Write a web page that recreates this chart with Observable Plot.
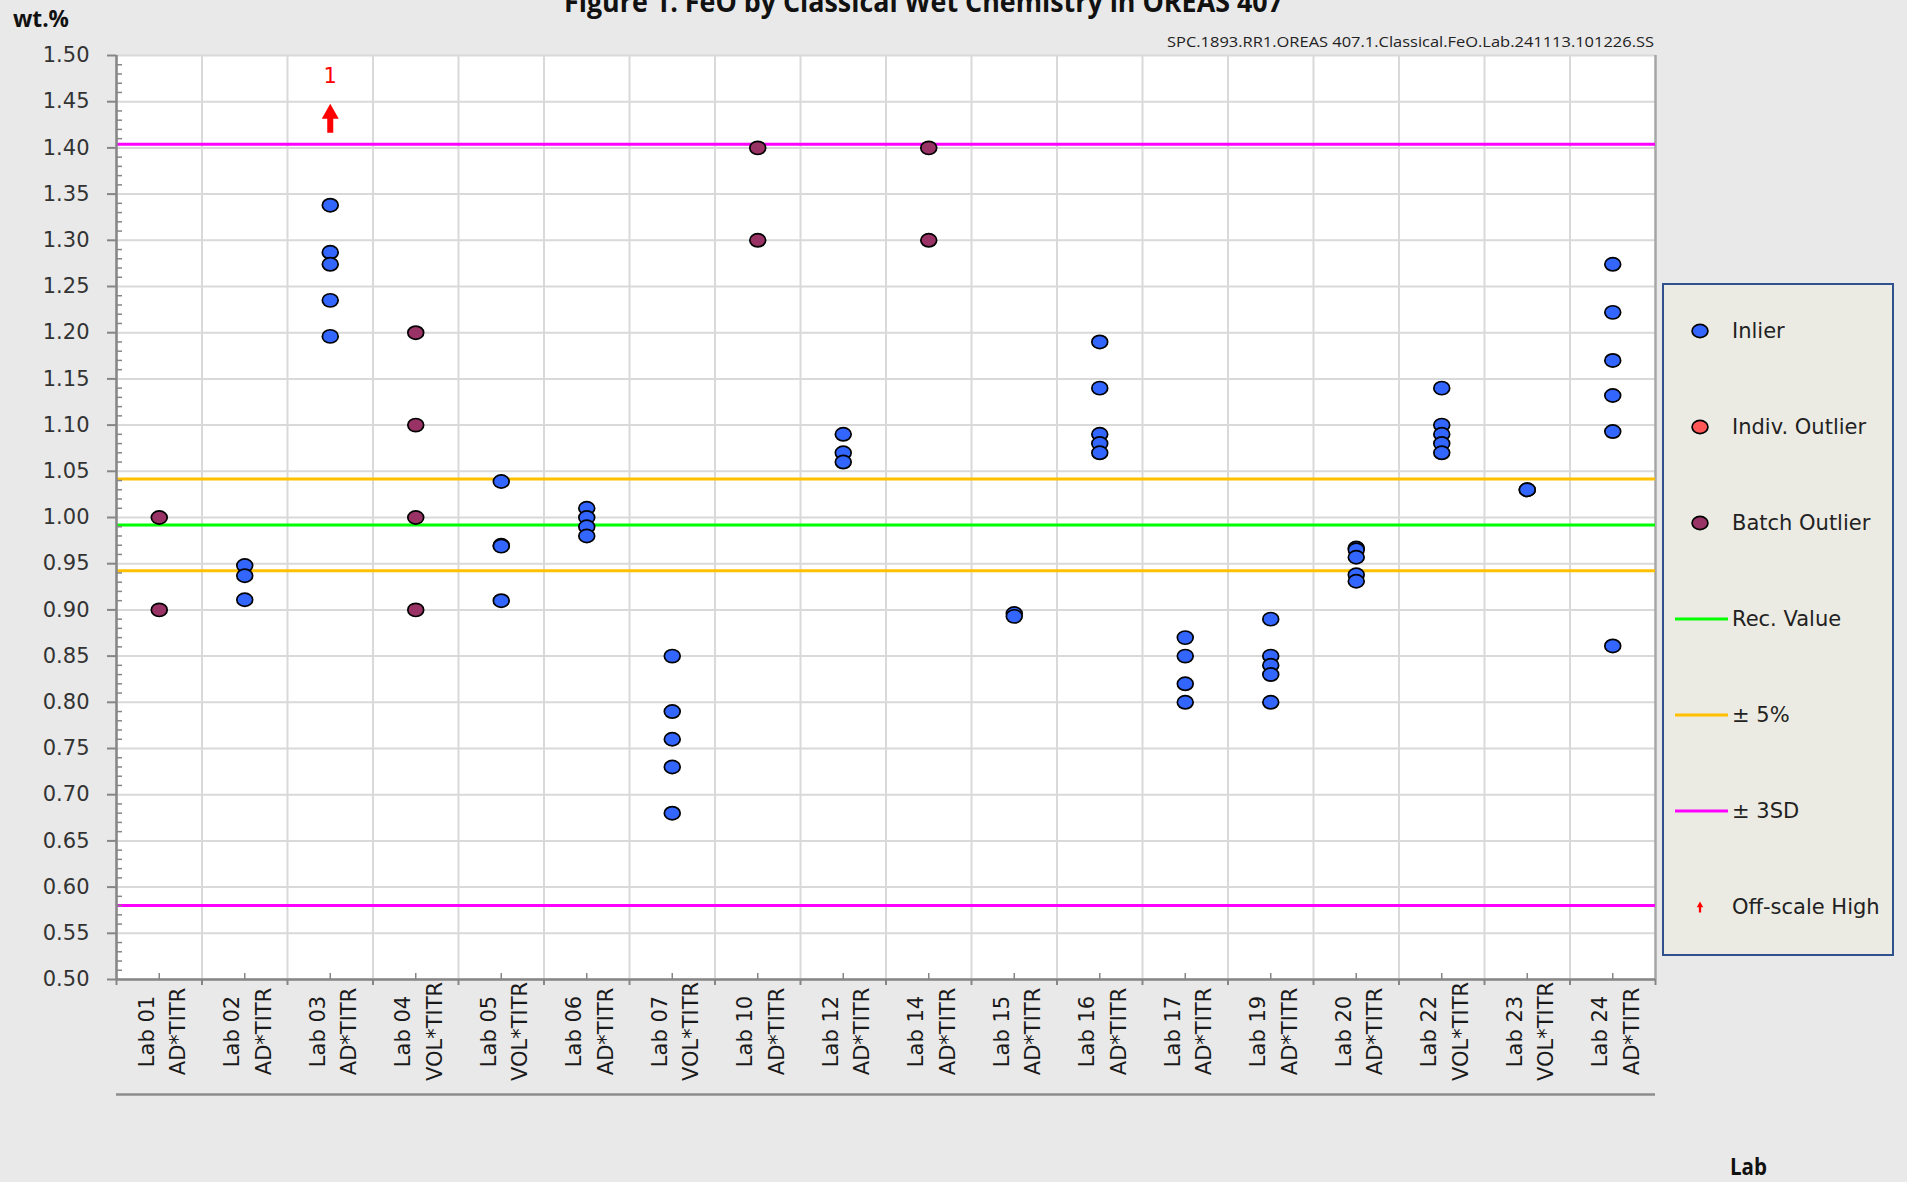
<!DOCTYPE html>
<html><head><meta charset="utf-8">
<script src="https://cdn.jsdelivr.net/npm/d3@7"></script>
<script src="https://cdn.jsdelivr.net/npm/@observablehq/plot@0.6"></script>
<style>
html,body{margin:0;padding:0;background:#e9e9e9;}
#chart{position:relative;width:1907px;height:1182px;overflow:hidden;}
</style></head><body><div id="chart"></div>
<script>
// ---------- data ----------
const labs = ["Lab 01","Lab 02","Lab 03","Lab 04","Lab 05","Lab 06","Lab 07","Lab 10","Lab 12","Lab 14","Lab 15","Lab 16","Lab 17","Lab 19","Lab 20","Lab 22","Lab 23","Lab 24"];
const methods = ["AD*TITR","AD*TITR","AD*TITR","VOL*TITR","VOL*TITR","AD*TITR","VOL*TITR","AD*TITR","AD*TITR","AD*TITR","AD*TITR","AD*TITR","AD*TITR","AD*TITR","AD*TITR","VOL*TITR","VOL*TITR","AD*TITR"];

const inlierLab = [
  "Lab 02","Lab 02","Lab 02",
  "Lab 03","Lab 03","Lab 03","Lab 03","Lab 03",
  "Lab 05","Lab 05","Lab 05","Lab 05",
  "Lab 06","Lab 06","Lab 06","Lab 06",
  "Lab 07","Lab 07","Lab 07","Lab 07","Lab 07",
  "Lab 12","Lab 12","Lab 12",
  "Lab 15","Lab 15",
  "Lab 16","Lab 16","Lab 16","Lab 16","Lab 16",
  "Lab 17","Lab 17","Lab 17","Lab 17",
  "Lab 19","Lab 19","Lab 19","Lab 19","Lab 19",
  "Lab 20","Lab 20","Lab 20","Lab 20","Lab 20",
  "Lab 22","Lab 22","Lab 22","Lab 22","Lab 22",
  "Lab 23","Lab 23",
  "Lab 24","Lab 24","Lab 24","Lab 24","Lab 24","Lab 24"
];
const inlierValue = [
  0.948,0.937,0.911,
  1.338,1.287,1.274,1.235,1.196,
  1.039,0.970,0.969,0.910,
  1.010,1.000,0.990,0.980,
  0.850,0.790,0.760,0.730,0.680,
  1.090,1.070,1.060,
  0.896,0.893,
  1.190,1.140,1.090,1.080,1.070,
  0.870,0.850,0.820,0.800,
  0.890,0.850,0.840,0.830,0.800,
  0.967,0.965,0.957,0.938,0.931,
  1.140,1.100,1.090,1.080,1.070,
  1.030,1.030,
  1.274,1.222,1.170,1.132,1.093,0.861
];
const batchLab = ["Lab 01","Lab 01","Lab 04","Lab 04","Lab 04","Lab 04","Lab 10","Lab 10","Lab 14","Lab 14"];
const batchValue = [1.00,0.90,1.20,1.10,1.00,0.90,1.40,1.30,1.40,1.30];

const offScaleLab = ["Lab 03"];
const offScaleCount = ["1"];
const offScaleArrowY = [1.432];
const offScaleLabelY = [1.477];

const recValue = 0.992;
const pct5Lines = [0.9424, 1.0416];
const sd3Lines = [0.580, 1.404];

const yTicks = d3.range(10, 31).map(d => d / 20);
const yMinor = d3.range(50, 151).filter(d => d % 5 !== 0).map(d => d / 100);

const legendLabels = ["Inlier","Indiv. Outlier","Batch Outlier","Rec. Value","\u00b1 5%","\u00b1 3SD","Off-scale High"];

const title = "Figure 1. FeO by Classical Wet Chemistry in OREAS 407";
const subtitle = "SPC.1893.RR1.OREAS 407.1.Classical.FeO.Lab.241113.101226.SS";
const yLabel = "wt.%";
const xLabel = "Lab";

// ---------- styles ----------
const C = {inlier:"#3366ff", indiv:"#ff5757", batch:"#993366", rec:"#00ff00", pct:"#ffc000", sd:"#ff00ff", grid:"#d9d9d9", axis:"#868686"};

const ellipse = {draw(ctx, size) {
  const r = Math.sqrt(size / Math.PI), rx = r * 1.1, ry = r * 0.92, k = 0.5523;
  ctx.moveTo(rx, 0);
  ctx.bezierCurveTo(rx, k*ry, k*rx, ry, 0, ry);
  ctx.bezierCurveTo(-k*rx, ry, -rx, k*ry, -rx, 0);
  ctx.bezierCurveTo(-rx, -k*ry, -k*rx, -ry, 0, -ry);
  ctx.bezierCurveTo(k*rx, -ry, rx, -k*ry, rx, 0);
  ctx.closePath();
}};
const upArrow = {draw(ctx, size) {
  const s = Math.sqrt(size / Math.PI) / 14.5;
  const P = [[0,-14.5],[8.5,0.5],[3,0.5],[3,14.5],[-3,14.5],[-3,0.5],[-8.5,0.5]];
  ctx.moveTo(P[0][0]*s, P[0][1]*s);
  for (let i = 1; i < P.length; i++) ctx.lineTo(P[i][0]*s, P[i][1]*s);
  ctx.closePath();
}};

const xc = lab => labs.indexOf(lab) + 0.5;
const FONT = "DejaVu Sans";
const DOT_R = 7.2;

const plot = Plot.plot({
  width: 1907, height: 1182,
  marginLeft: 116, marginRight: 252, marginTop: 55, marginBottom: 203,
  style: {background: "transparent", fontFamily: FONT, fontSize: "21px", color: "#333"},
  x: {type: "linear", domain: [0, labs.length]},
  y: {domain: [0.5, 1.5]},
  marks: [
    Plot.frame({fill: "white", stroke: null}),
    Plot.ruleY(yTicks, {stroke: C.grid, strokeWidth: 2}),
    Plot.ruleX(d3.range(0, labs.length), {stroke: C.grid, strokeWidth: 2}),
    Plot.ruleX([labs.length], {stroke: "#a6a6a6", strokeWidth: 2.5}),
    Plot.ruleY(sd3Lines, {stroke: C.sd, strokeWidth: 3}),
    Plot.ruleY(pct5Lines, {stroke: C.pct, strokeWidth: 3}),
    Plot.ruleY([recValue], {stroke: C.rec, strokeWidth: 3}),
    Plot.ruleX([0], {stroke: C.axis, strokeWidth: 2.5}),
    Plot.ruleY([0.5], {stroke: C.axis, strokeWidth: 2.5}),
    Plot.ruleY([0.5], {stroke: "#8c8c8c", strokeWidth: 2.5, dy: 115}),
    Plot.axisY(yTicks, {tickSize: 9, tickPadding: 18, tickFormat: d => d.toFixed(2), stroke: C.axis, strokeWidth: 2, fill: "#333", fontSize: 21}),
    Plot.axisY(yMinor, {tickSize: 6, dx: 6, tickFormat: () => "", stroke: C.axis, strokeWidth: 1.5}),
    Plot.axisX(d3.range(0, labs.length + 1), {tickSize: 6, tickFormat: () => "", stroke: C.axis, strokeWidth: 2}),
    Plot.axisX(d3.range(0, labs.length).map(i => i + 0.5), {tickSize: 6, dy: -6, tickFormat: () => "", stroke: C.axis, strokeWidth: 1.5}),
    Plot.text(d3.range(labs.length), {
      x: i => i + 0.5, text: i => labs[i] + "\n" + methods[i],
      frameAnchor: "bottom", dy: 52, rotate: -90, textAnchor: "middle", lineAnchor: "middle",
      lineHeight: 1.52, fontSize: 21, fill: "#1a1a1a"
    }),
    Plot.dot(d3.range(batchLab.length), {x: i => xc(batchLab[i]), y: i => batchValue[i], r: DOT_R, symbol: ellipse, fill: C.batch, stroke: "#000", strokeWidth: 1.7}),
    Plot.dot(d3.range(inlierLab.length), {x: i => xc(inlierLab[i]), y: i => inlierValue[i], r: DOT_R, symbol: ellipse, fill: C.inlier, stroke: "#000", strokeWidth: 1.7}),
    Plot.dot(d3.range(offScaleLab.length), {x: i => xc(offScaleLab[i]), y: i => offScaleArrowY[i], r: 14.5, symbol: upArrow, fill: "#ff0000", stroke: "none"}),
    Plot.text(d3.range(offScaleLab.length), {x: i => xc(offScaleLab[i]), y: i => offScaleLabelY[i], text: i => offScaleCount[i], fill: "#ff0000", fontSize: 21})
  ]
});
document.getElementById("chart").appendChild(plot);

// ---------- titles & legend ----------
const svg = d3.select(plot);
const NARROW = "'Liberation Sans Narrow', 'Open Sans', 'Liberation Sans', sans-serif";
function addText(txt, x, y, size, weight, anchor, len, fill) {
  const t = svg.append("text").attr("x", x).attr("y", y).attr("font-family", NARROW)
    .attr("font-size", size).attr("font-weight", weight).attr("text-anchor", anchor)
    .attr("fill", fill || "#111").text(txt);
  if (len) t.attr("textLength", len).attr("lengthAdjust", "spacingAndGlyphs");
  return t;
}
addText(title, 564, 12, 29, "bold", "start", 719);
addText(subtitle, 1167, 47, 15, "normal", "start", 487, "#222");
addText(yLabel, 13, 27, 23, "bold", "start", 56);
addText(xLabel, 1730, 1175, 24, "bold", "start", 37);

const lg = svg.append("g");
lg.append("rect").attr("x", 1663).attr("y", 284).attr("width", 230).attr("height", 671)
  .attr("fill", "#ecebe3").attr("stroke", "#2f528f").attr("stroke-width", 2);
const rowY = i => 331 + i * 96;
const sym = (type, r) => d3.symbol(type, r * r * Math.PI)();
legendLabels.forEach((lab, i) => {
  const y = rowY(i);
  if (i < 3) {
    lg.append("path").attr("d", sym(ellipse, DOT_R)).attr("transform", `translate(1700,${y})`)
      .attr("fill", [C.inlier, C.indiv, C.batch][i]).attr("stroke", "#000").attr("stroke-width", 1.7);
  } else if (i < 6) {
    lg.append("line").attr("x1", 1675).attr("x2", 1728).attr("y1", y).attr("y2", y)
      .attr("stroke", [C.rec, C.pct, C.sd][i - 3]).attr("stroke-width", 3);
  } else {
    lg.append("path").attr("d", sym(upArrow, 5.5)).attr("transform", `translate(1700,${y})`).attr("fill", "#ff0000");
  }
  lg.append("text").attr("x", 1732).attr("y", y).attr("dy", "0.35em").attr("font-family", FONT)
    .attr("font-size", 21).attr("fill", "#222").attr("text-anchor", "start").text(lab);
});
</script>
</body></html>
